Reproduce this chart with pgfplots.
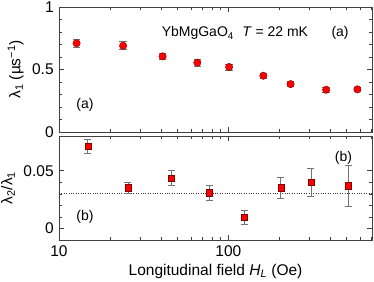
\documentclass[border=0pt]{standalone}
\usepackage{pgfplots}
\pgfplotsset{compat=1.18}
\usepackage{fontspec}
\setmainfont{Liberation Sans}
\pgfkeys{/pgf/number format/assume math mode=true}
\begin{document}
\fontsize{15.5}{18}\selectfont
\begin{tikzpicture}
\begin{axis}[name=top, scale only axis, width=313pt, height=125pt,
  xmode=log, xmin=10, xmax=705,
  tick align=inside,
  major tick length=5pt, minor tick length=3pt,
  axis line style={black!75, line width=0.7pt},
  every tick/.style={black!75, line width=0.5pt},
  tick label style={font=\fontsize{15.5}{18}\selectfont},
  label style={font=\fontsize{15.5}{18}\selectfont},
  minor y tick num=4,
  xtick={10,100},
  minor xtick={20,30,40,50,60,70,80,90,200,300,400,500,600,700},
  scaled y ticks=false,
  clip=false,
  ymin=0, ymax=1, ytick={0,0.5,1},
  yticklabels={0,0.5,1},
  xticklabels={},
  ylabel={λ\textsubscript{1} (µs\textsuperscript{−1})},
  ylabel style={yshift=-2pt},
]
\addplot[only marks, mark=*, mark size=3.7pt,
  mark options={fill=red, draw=red!50!black, line width=0.4pt},
  error bars/.cd, y dir=both, y explicit,
  error bar style={black!55, line width=0.7pt},
  error mark options={rotate=90, mark size=3.8pt, black!55, line width=0.7pt}]
coordinates {
 (12.7,0.71) +- (0,0.032)
 (23.9,0.69) +- (0,0.032)
 (40.9,0.605) +- (0,0.027)
 (65.6,0.555) +- (0,0.026)
 (101,0.52) +- (0,0.024)
 (161,0.45) +- (0,0.022)
 (233,0.383) +- (0,0.02)
 (378,0.338) +- (0,0.017)
 (578,0.341) +- (0,0.017)
};
\node[font=\fontsize{14}{16}\selectfont] at (rel axis cs:0.562,0.79) {YbMgGaO\textsubscript{4}\hspace{0.6em}\textit{T} = 22 mK};
\node[font=\fontsize{14}{16}\selectfont] at (rel axis cs:0.898,0.79) {(a)};
\node[font=\fontsize{14}{16}\selectfont] at (rel axis cs:0.083,0.216) {(a)};
\end{axis}
\begin{axis}[at={(top.south west)}, anchor=north west, yshift=-4pt,
  scale only axis, width=313pt, height=104pt,
  xmode=log, xmin=10, xmax=705,
  tick align=inside,
  major tick length=5pt, minor tick length=3pt,
  axis line style={black!75, line width=0.7pt},
  every tick/.style={black!75, line width=0.5pt},
  tick label style={font=\fontsize{15.5}{18}\selectfont},
  label style={font=\fontsize{15.5}{18}\selectfont},
  minor y tick num=4,
  xtick={10,100},
  minor xtick={20,30,40,50,60,70,80,90,200,300,400,500,600,700},
  scaled y ticks=false,
  clip=false,
  ymin=-0.01, ymax=0.08, ytick={0,0.05},
  yticklabels={0,0.05},
  xticklabels={10,100},
  xlabel={Longitudinal field \textit{H}\textsubscript{\textit{L}} (Oe)},
  ylabel={λ\textsubscript{2}/λ\textsubscript{1}},
  ylabel style={yshift=-2pt},
  xlabel style={yshift=3pt},
]
\addplot[dotted, black!80, line width=0.4pt] coordinates {(10,0.0302) (705,0.0302)};
\addplot[only marks, mark=square*, mark size=3.1pt,
  mark options={fill=red, draw=red!50!black, line width=0.4pt},
  error bars/.cd, y dir=both, y explicit,
  error bar style={black!55, line width=0.7pt},
  error mark options={rotate=90, mark size=3.5pt, black!55, line width=0.7pt}]
coordinates {
 (14.8,0.0712) +- (0,0.0063)
 (25.5,0.0353) +- (0,0.005)
 (45.9,0.0436) +- (0,0.0063)
 (76.9,0.031) +- (0,0.0065)
 (124,0.0095) +- (0,0.0063)
 (204,0.0353) +- (0,0.0092)
 (307,0.0399) +- (0,0.0118)
 (512,0.037) +- (0,0.0177)
};
\node[font=\fontsize{14}{16}\selectfont] at (rel axis cs:0.909,0.786) {(b)};
\node[font=\fontsize{14}{16}\selectfont] at (rel axis cs:0.083,0.224) {(b)};
\end{axis}
\pgfresetboundingbox
\path (top.north west) ++(-59pt,7pt) rectangle ++(374pt,-281pt);
\end{tikzpicture}
\end{document}
